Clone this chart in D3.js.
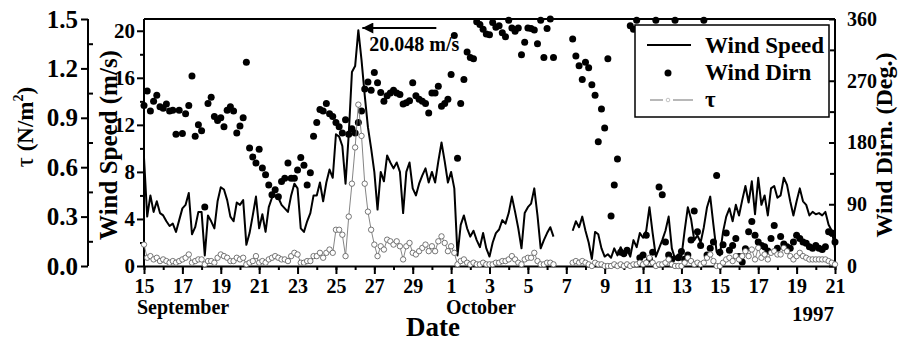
<!DOCTYPE html>
<html>
<head>
<meta charset="utf-8">
<script src="https://cdn.jsdelivr.net/npm/d3@7"></script>
<style>
body { margin: 0; background: #fff; }
svg text { font-family: "Liberation Serif", "Times New Roman", serif; font-weight: bold; fill: #000; }
</style>
</head>
<body>
<script>
// 4-hourly samples, 15 Sep 1997 00h .. 21 Oct 1997 00h (one row = one day)
const startDate = new Date(Date.UTC(1997, 8, 15))
const endDate = new Date(Date.UTC(1997, 9, 21))
const stepHours = 4

const windSpeed = [
    9.2, 4.2, 6.0, 4.6, 5.5, 4.5,   // Sep 15
    4.3, 3.8, 3.4, 3.6, 2.9, 3.9,
    4.9, 5.2, 6.2, 2.7, 3.3, 4.6,
    4.6, 0.9, 4.3, 3.8, 3.2, 5.5,
    6.7, 6.5, 5.6, 4.2, 3.8, 5.4,
    5.2, 5.6, 1.8, 2.8, 4.3, 5.9,   // Sep 20
    3.2, 4.4, 2.9, 5.0, 5.8, 6.0,
    5.8, 5.2, 4.9, 4.6, 6.0, 7.0,
    6.6, 3.2, 2.9, 3.8, 4.5, 6.0,
    6.0, 7.1, 5.5, 7.1, 8.2, 7.5,
    11.2, 11.0, 10.2, 7.0, 11.2, 16.5, // Sep 25
    17.0, 20.048, 17.5, 14.5, 11.8, 10.0,
    8.0, 4.8, 8.0, 7.2, 9.4, 8.8,
    8.3, 8.8, 8.0, 4.5, 8.0, 8.8,
    6.6, 6.0, 7.0, 7.7, 8.3, 7.1,
    8.0, 7.1, 8.9, 10.5, 8.9, 7.1,  // Sep 30
    8.0, 6.6, 0.9, 3.5, 4.3, 3.2,   // Oct 1
    2.5, 3.0, 2.2, 1.6, 2.8, 1.5,
    0.8, 2.0, 2.8, 3.1, 3.9, 3.6,
    4.5, 5.9, 4.6, 3.2, 1.5, 4.5,
    5.0, 5.3, 6.6, 4.3, 1.5, 2.2,   // Oct 5
    2.8, 3.3, 2.5, null, null, null,
    null, null, 3.0, 3.8, 3.3, 4.2,
    3.0, 2.0, 0.6, 2.9, 2.7, 1.5,
    0.8, 1.0, 0.7, 1.5, 0.9, 1.6,
    1.0, 1.4, 0.8, 2.2, 1.6, 2.8,   // Oct 10
    2.4, 3.0, 5.0, 2.8, 0.8, 1.5,
    2.2, 3.0, 4.2, 1.5, 0.6, 1.0,
    0.8, 3.0, 5.0, 4.0, 2.2, 2.6,
    2.0, 3.3, 5.0, 5.9, 3.5, 1.2,
    0.9, 2.9, 4.2, 4.9, 3.8, 5.2,   // Oct 15
    4.3, 5.6, 6.8, 5.4, 7.2, 4.4,
    7.5, 5.2, 6.0, 4.3, 6.6, 6.8,
    5.8, 6.0, 7.5, 6.9, 5.5, 4.3,
    5.5, 6.6, 5.5, 5.2, 4.3, 4.6,
    4.4, 4.5, 4.3, 4.6, 3.5, 3.0,   // Oct 20
    1.5
]

const windDir = [
    234, 255, 226, 240, 249, 232,   // Sep 15
    230, 236, 226, 227, 192, 227,
    193, 222, 234, 277, 189, 206,
    197, 86, 237, 246, 218, 212,
    216, 203, 227, 232, 226, 194,
    204, 216, 297, 172, 159, 150,   // Sep 20
    170, 143, 133, 118, 104, 111,
    101, 123, 128, 150, 128, 128,
    140, 158, 147, 118, 136, 189,
    209, 228, 226, 237, 222, 218,
    209, 203, 194, 213, 192, 200,   // Sep 25
    194, 209, 226, 258, 268, 256,
    282, 267, 253, 240, 248, 252,
    256, 252, 250, 236, 238, 241,
    267, 248, 243, 240, 237, 223,
    252, 252, 262, 233, 237, 243,   // Sep 30
    279, 336, 157, 237, 272, 312,   // Oct 1
    304, 302, 356, 352, 345, 338,
    337, 355, 348, 350, 340, 334,
    358, 347, 342, 347, 308, 326,
    347, 346, 344, 324, 358, 304,   // Oct 5
    346, 360, 304, null, null, null,
    null, null, 331, 306, 292, 272,
    297, 289, 264, 249, 181, 229,
    201, 302, 73, 118, 156, 20,
    18, 23, 350, 345, 358, 12,      // Oct 10
    16, 45, 10, 20, 358, 115,
    104, 35, 16, 10, 358, 12,
    21, 10, 16, 38, 80, 50,
    30, 358, 16, 26, 35, 132,
    20, 31, 48, 23, 30, 40,         // Oct 15
    14, 6, 25, 50, 65, 45,
    35, 30, 28, 22, 40, 59,
    26, 43, 32, 28, 26, 35,
    45, 40, 35, 33, 28, 26,
    30, 26, 24, 28, 50, 48,         // Oct 20
    35
]

const tau = [
    0.13, 0.05, 0.06, 0.04, 0.05, 0.03,   // Sep 15
    0.04, 0.03, 0.02, 0.03, 0.02, 0.03,
    0.04, 0.05, 0.07, 0.02, 0.03, 0.04,
    0.04, 0.01, 0.03, 0.03, 0.02, 0.05,
    0.07, 0.06, 0.05, 0.03, 0.03, 0.05,
    0.04, 0.05, 0.01, 0.02, 0.03, 0.06,   // Sep 20
    0.02, 0.03, 0.02, 0.04, 0.05, 0.06,
    0.05, 0.04, 0.04, 0.03, 0.06, 0.08,
    0.07, 0.02, 0.02, 0.03, 0.03, 0.06,
    0.06, 0.08, 0.05, 0.08, 0.10, 0.08,
    0.22, 0.22, 0.19, 0.06, 0.30, 0.50,   // Sep 25
    0.72, 0.98, 0.79, 0.50, 0.33, 0.22,
    0.13, 0.06, 0.12, 0.10, 0.16, 0.15,
    0.13, 0.15, 0.12, 0.04, 0.12, 0.14,
    0.08, 0.07, 0.09, 0.11, 0.13, 0.09,
    0.12, 0.09, 0.15, 0.18, 0.14, 0.09,   // Sep 30
    0.12, 0.08, 0.01, 0.03, 0.04, 0.02,   // Oct 1
    0.01, 0.02, 0.01, 0.01, 0.02, 0.01,
    0.01, 0.01, 0.02, 0.02, 0.03, 0.03,
    0.04, 0.06, 0.04, 0.02, 0.01, 0.04,
    0.05, 0.05, 0.08, 0.03, 0.01, 0.01,   // Oct 5
    0.02, 0.02, 0.01, null, null, null,
    null, null, 0.02, 0.03, 0.02, 0.03,
    0.02, 0.01, 0.00, 0.02, 0.01, 0.01,
    0.00, 0.00, 0.00, 0.01, 0.00, 0.01,
    0.00, 0.01, 0.00, 0.01, 0.01, 0.02,   // Oct 10
    0.01, 0.02, 0.05, 0.02, 0.00, 0.01,
    0.01, 0.02, 0.04, 0.01, 0.00, 0.00,
    0.00, 0.02, 0.05, 0.03, 0.01, 0.02,
    0.01, 0.02, 0.05, 0.07, 0.03, 0.00,
    0.00, 0.02, 0.04, 0.05, 0.03, 0.06,   // Oct 15
    0.04, 0.06, 0.09, 0.06, 0.10, 0.04,
    0.11, 0.05, 0.07, 0.04, 0.08, 0.09,
    0.07, 0.07, 0.11, 0.09, 0.06, 0.04,
    0.06, 0.08, 0.06, 0.05, 0.04, 0.04,
    0.04, 0.04, 0.04, 0.04, 0.03, 0.02,   // Oct 20
    0.01
]

const tauTicks = [0, 0.3, 0.6, 0.9, 1.2, 1.5]
const speedTicks = [0, 4, 8, 12, 16, 20]
const dirTicks = [0, 90, 180, 270, 360]
const peakLabel = "20.048 m/s"

const width = 903, height = 344
const plotL = 144, plotR = 835, plotT = 19, plotB = 266

const rows = windSpeed.map((ws, i) => ({
    t: new Date(startDate.getTime() + i * stepHours * 3600e3),
    ws: ws,
    dir: windDir[i],
    tau: tau[i]
}))

const svg = d3.select("body").append("svg")
    .attr("width", width)
    .attr("height", height)

const x = d3.scaleUtc().domain([startDate, endDate]).range([plotL, plotR])
const ySpeed = d3.scaleLinear().domain([0, 21]).range([plotB, plotT])
const yTau = d3.scaleLinear().domain([0, 1.5]).range([plotB, plotT])
const yDir = d3.scaleLinear().domain([0, 360]).range([plotB, plotT])

function styleAxis(g, size) {
    g.select(".domain").attr("stroke-width", 2)
    g.selectAll(".tick line").attr("stroke-width", 2)
    g.selectAll(".tick text")
        .attr("font-size", size)
        .attr("font-family", null)
}

// ---- x axis (days)
const days = d3.utcDay.range(startDate, d3.utcDay.offset(endDate, 1))
svg.append("g")
    .attr("transform", `translate(0,${plotB})`)
    .call(d3.axisBottom(x).tickValues(days).tickSize(4).tickFormat("").tickSizeOuter(0))
    .call(g => g.select(".domain").remove())
    .call(g => g.selectAll(".tick line").attr("stroke-width", 2))
svg.append("g")
    .attr("transform", `translate(0,${plotB})`)
    .call(d3.axisBottom(x).tickValues(days.filter((d, i) => i % 2 == 0))
        .tickSize(8).tickPadding(5).tickSizeOuter(0)
        .tickFormat(d3.utcFormat("%-d")))
    .call(g => styleAxis(g, 20))

// ---- top frame
svg.append("line")
    .attr("x1", plotL).attr("x2", plotR).attr("y1", plotT).attr("y2", plotT)
    .attr("stroke", "#000").attr("stroke-width", 2)

// ---- wind speed axis (left of frame)
svg.append("g")
    .attr("transform", `translate(${plotL},0)`)
    .call(d3.axisLeft(ySpeed).tickValues(d3.range(2, 21, 4)).tickSize(4).tickFormat("").tickSizeOuter(0))
    .call(g => g.select(".domain").remove())
    .call(g => g.selectAll(".tick line").attr("stroke-width", 2))
svg.append("g")
    .attr("transform", `translate(${plotL},0)`)
    .call(d3.axisLeft(ySpeed).tickValues(speedTicks).tickSize(7).tickPadding(2).tickSizeOuter(0))
    .call(g => g.select(".domain").attr("d", `M0,${plotB}V${plotT}`))
    .call(g => styleAxis(g, 21))

// ---- tau axis (far left)
const tauX = 88
svg.append("g")
    .attr("transform", `translate(${tauX},0)`)
    .call(d3.axisRight(yTau).tickValues(d3.range(0.15, 1.5, 0.3)).tickSize(5).tickFormat("").tickSizeOuter(0))
    .call(g => g.select(".domain").remove())
    .call(g => g.selectAll(".tick line").attr("stroke-width", 2))
svg.append("g")
    .attr("transform", `translate(${tauX},0)`)
    .call(d3.axisLeft(yTau).tickValues(tauTicks).tickSize(7).tickPadding(3).tickSizeOuter(0)
        .tickFormat(d3.format(".1f")))
    .call(g => g.select(".domain").attr("d", `M0,${plotB}V${plotT}`))
    .call(g => styleAxis(g, 25))

// ---- wind direction axis (right)
svg.append("g")
    .attr("transform", `translate(${plotR},0)`)
    .call(d3.axisRight(yDir).tickValues(d3.range(45, 360, 90)).tickSize(-5).tickFormat("").tickSizeOuter(0))
    .call(g => g.select(".domain").remove())
    .call(g => g.selectAll(".tick line").attr("stroke-width", 2))
svg.append("g")
    .attr("transform", `translate(${plotR},0)`)
    .call(d3.axisRight(yDir).tickValues(dirTicks).tickSize(-6).tickPadding(12).tickSizeOuter(0))
    .call(g => g.select(".domain").attr("d", `M0,${plotB}V${plotT}`))
    .call(g => styleAxis(g, 20))

// ---- series
const speedLine = d3.line()
    .defined(d => d.ws != null)
    .x(d => x(d.t))
    .y(d => ySpeed(d.ws))

const tauLine = d3.line()
    .defined(d => d.tau != null)
    .x(d => x(d.t))
    .y(d => yTau(d.tau))

svg.append("path")
    .datum(rows)
    .attr("fill", "none")
    .attr("stroke", "#000")
    .attr("stroke-width", 2)
    .attr("stroke-linejoin", "round")
    .attr("d", speedLine)

svg.append("g")
    .selectAll("circle")
    .data(rows.filter(d => d.dir != null))
    .join("circle")
    .attr("cx", d => x(d.t))
    .attr("cy", d => yDir(d.dir))
    .attr("r", 3.5)
    .attr("fill", "#000")

svg.append("path")
    .datum(rows)
    .attr("fill", "none")
    .attr("stroke", "#777")
    .attr("stroke-width", 0.9)
    .attr("d", tauLine)

svg.append("g")
    .selectAll("circle")
    .data(rows.filter(d => d.tau != null))
    .join("circle")
    .attr("cx", d => x(d.t))
    .attr("cy", d => yTau(d.tau))
    .attr("r", 2.7)
    .attr("fill", "#fff")
    .attr("stroke", "#555")
    .attr("stroke-width", 0.8)

// ---- peak annotation
const peak = rows.reduce((a, b) => (b.ws != null && b.ws > a.ws ? b : a))
svg.append("defs").append("marker")
    .attr("id", "arrow")
    .attr("viewBox", "0 0 10 10")
    .attr("refX", 10).attr("refY", 5)
    .attr("markerWidth", 5.5).attr("markerHeight", 5)
    .attr("orient", "auto")
    .append("path").attr("d", "M0,0L10,5L0,10Z").attr("fill", "#000")
svg.append("line")
    .attr("x1", x(peak.t) + 78).attr("x2", x(peak.t) + 4)
    .attr("y1", 28).attr("y2", 28)
    .attr("stroke", "#000").attr("stroke-width", 2.2)
    .attr("marker-end", "url(#arrow)")
svg.append("text")
    .attr("x", x(peak.t) + 11).attr("y", 51)
    .attr("font-size", 20)
    .text(peakLabel)

// ---- legend
const legend = svg.append("g").attr("transform", "translate(635,25)")
legend.append("rect")
    .attr("width", 194).attr("height", 92)
    .attr("fill", "#fff").attr("stroke", "#000").attr("stroke-width", 1.5)
legend.append("line")
    .attr("x1", 12).attr("x2", 56).attr("y1", 20).attr("y2", 20)
    .attr("stroke", "#000").attr("stroke-width", 2)
legend.append("circle")
    .attr("cx", 33).attr("cy", 48).attr("r", 3.5).attr("fill", "#000")
legend.selectAll("line.tau")
    .data([[15, 28], [38, 58]])
    .join("line")
    .attr("class", "tau")
    .attr("x1", d => d[0]).attr("x2", d => d[1])
    .attr("y1", 75).attr("y2", 75)
    .attr("stroke", "#888").attr("stroke-width", 1.2)
legend.append("circle")
    .attr("cx", 33).attr("cy", 75).attr("r", 1.8)
    .attr("fill", "#fff").attr("stroke", "#aaa").attr("stroke-width", 0.7)
const legendNames = ["Wind Speed", "Wind Dirn", "τ"]
legend.selectAll("text.name")
    .data(legendNames)
    .join("text")
    .attr("class", "name")
    .attr("x", 70)
    .attr("y", (d, i) => 28 + i * 27)
    .attr("font-size", 23)
    .attr("font-weight", (d, i) => i == 2 ? "normal" : "bold")
    .text(d => d)

// ---- axis titles
const tauTitle = svg.append("text")
    .attr("transform", "translate(33,127) rotate(-90)")
    .attr("text-anchor", "middle")
    .attr("font-size", 23)
tauTitle.append("tspan").attr("font-weight", "normal").attr("font-size", 25).text("τ")
tauTitle.append("tspan").text(" (N/m")
tauTitle.append("tspan").attr("font-size", 14).attr("dy", -10).text("2")
tauTitle.append("tspan").attr("dy", 10).text(")")

svg.append("text")
    .attr("transform", "translate(117,145) rotate(-90)")
    .attr("text-anchor", "middle")
    .attr("font-size", 25)
    .text("Wind Speed (m/s)")

svg.append("text")
    .attr("transform", "translate(892,145) rotate(-90)")
    .attr("text-anchor", "middle")
    .attr("font-size", 24)
    .text("Wind Dirn. (Deg.)")

svg.append("text")
    .attr("x", 433).attr("y", 336)
    .attr("text-anchor", "middle")
    .attr("font-size", 27)
    .text("Date")

svg.append("text").attr("x", 137).attr("y", 314).attr("font-size", 20).text("September")
svg.append("text").attr("x", 446).attr("y", 314).attr("font-size", 20).text("October")
svg.append("text").attr("x", 834).attr("y", 321).attr("text-anchor", "end").attr("font-size", 21).text("1997")
</script>
</body>
</html>
